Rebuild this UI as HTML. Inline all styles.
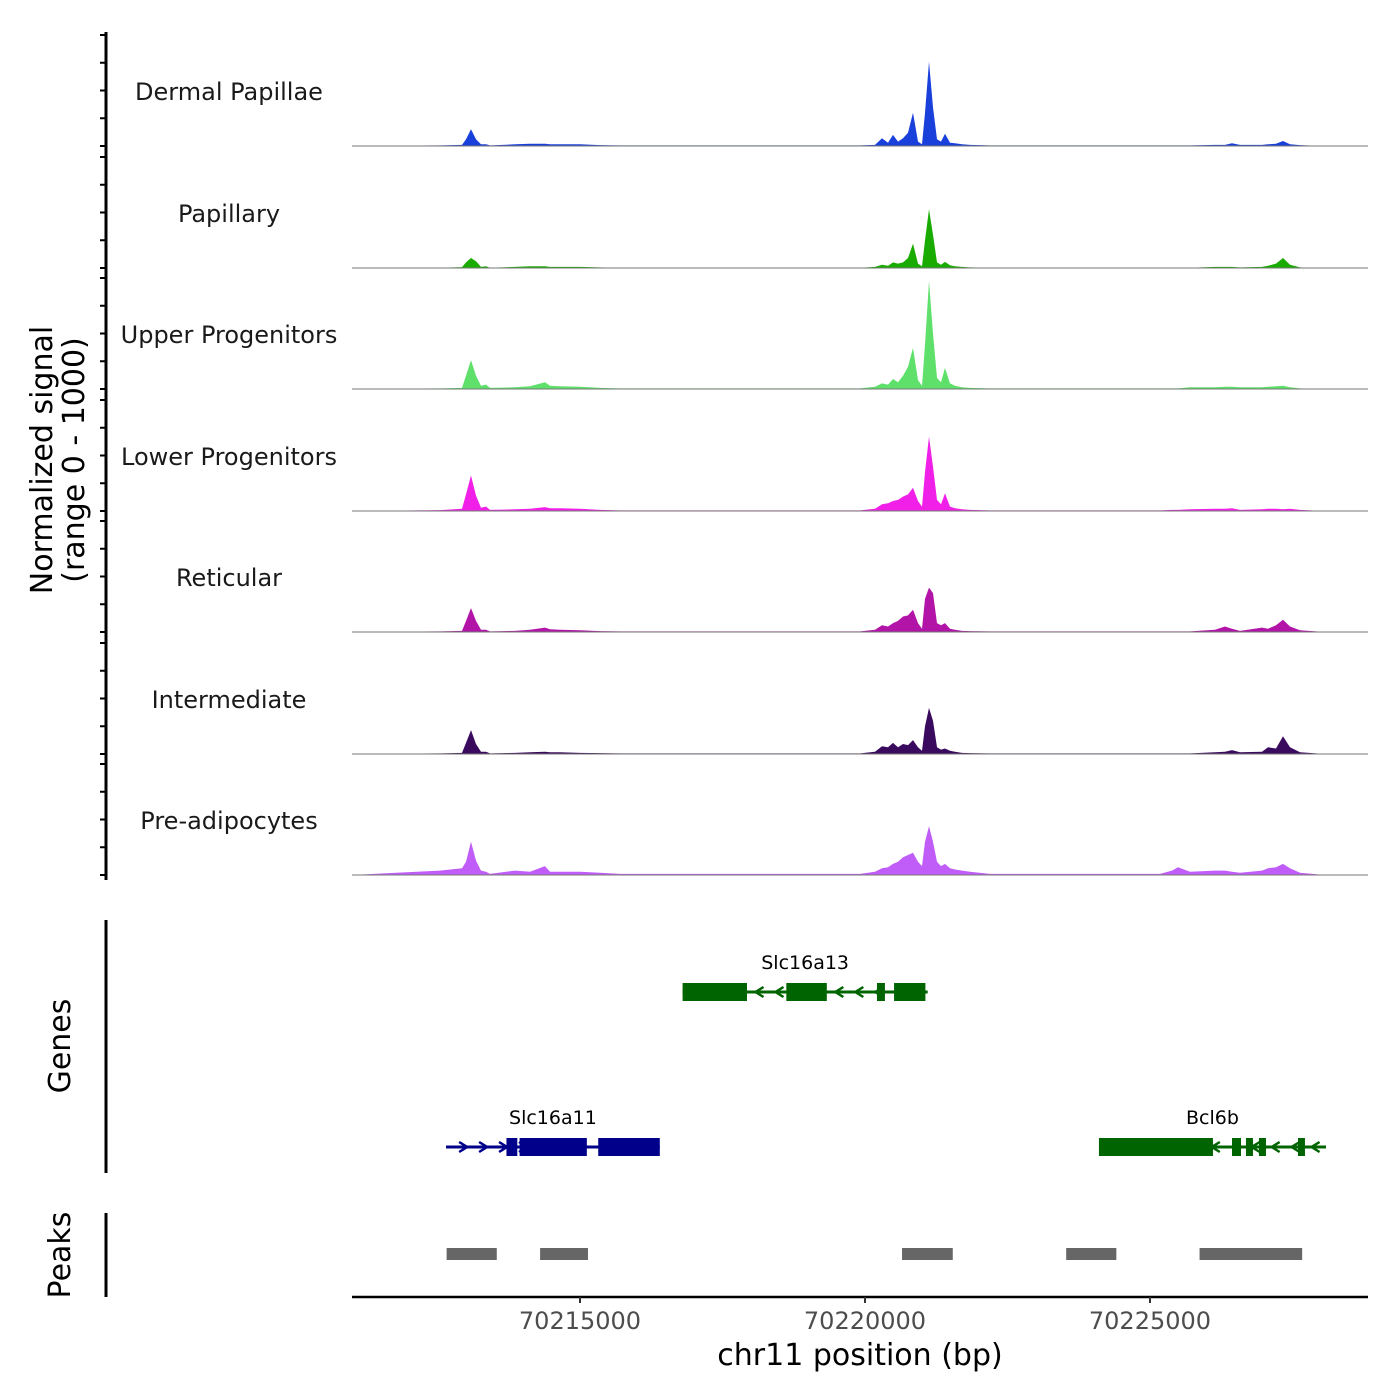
<!DOCTYPE html>
<html><head><meta charset="utf-8"><style>
body{margin:0;background:#fff}
svg{display:block;font-family:"DejaVu Sans","Liberation Sans",sans-serif}
</style></head><body>
<svg id="chart" width="1400" height="1400" xmlns="http://www.w3.org/2000/svg"></svg>
<script>
const xStart=70211000, xEnd=70228825;
const trackNames=["Dermal Papillae","Papillary","Upper Progenitors","Lower Progenitors","Reticular","Intermediate","Pre-adipocytes"];
const trackColors=["#1a40dc","#1aab00","#5ee06a","#f020e8","#b314a8","#3a0a5e","#c05cf8"];
const positions=[70211000,70212544,70212930,70213000,70213088,70213175,70213263,70213351,70213421,70213860,70214123,70214386,70214474,70214649,70215000,70215351,70215702,70219912,70220175,70220298,70220404,70220491,70220579,70220667,70220754,70220842,70220930,70221000,70221053,70221123,70221193,70221263,70221333,70221404,70221491,70221579,70221702,70221842,70222193,70225175,70225386,70225491,70225702,70226140,70226316,70226439,70226579,70226965,70227070,70227211,70227333,70227456,70227632,70228070,70228825];
const dermalValues=[0,5,10,60,150,60,15,15,5,15,20,20,15,15,15,8,5,5,10,70,30,100,40,70,120,300,40,15,300,760,350,60,40,110,30,25,15,10,5,5,5,5,5,10,10,25,10,10,15,20,45,15,8,0,0];
const papillaryValues=[0,3,8,50,90,60,10,15,3,10,15,15,10,10,10,5,3,3,10,30,20,50,40,50,90,220,40,15,250,530,300,50,30,55,25,15,10,5,3,3,3,3,3,10,10,10,5,10,20,40,90,30,5,0,0];
const upperValues=[0,5,10,120,260,120,30,40,10,15,25,60,30,25,20,10,5,5,20,50,40,90,60,120,200,370,80,30,400,970,500,100,60,190,50,30,15,10,5,5,5,5,15,15,20,20,15,15,20,25,30,15,5,0,0];
const lowerValues=[0,8,20,150,320,140,30,40,10,15,20,35,25,25,20,10,5,5,20,60,70,90,100,130,150,210,90,40,350,670,400,100,60,160,40,25,15,10,5,5,10,10,15,20,20,25,10,15,20,20,15,20,10,0,0];
const reticularValues=[0,5,10,100,215,100,20,20,5,10,20,40,25,20,15,8,5,5,20,60,50,80,100,140,150,200,80,30,300,400,350,80,60,80,30,20,10,8,5,5,5,5,5,20,50,30,10,40,30,60,110,50,15,0,0];
const intermediateValues=[0,5,10,100,215,90,20,20,5,10,15,20,15,15,10,8,5,5,20,70,60,100,60,90,80,125,60,30,250,415,300,60,40,50,30,20,10,8,5,5,5,5,5,15,20,35,15,20,60,50,160,60,15,0,0];
const preadipoValues=[0,40,60,120,300,130,40,30,10,40,30,80,30,30,30,20,10,10,30,60,70,100,120,160,180,200,120,80,300,440,300,120,80,100,60,50,40,30,10,10,40,70,30,40,40,30,20,40,60,70,100,60,20,0,0];
const trackValues=[dermalValues,papillaryValues,upperValues,lowerValues,reticularValues,intermediateValues,preadipoValues];
const xTicks=[70215000,70220000,70225000];
const geneNames=["Slc16a13","Slc16a11","Bcl6b"];
const geneStarts=[70216800,70212650,70224105];
const geneEnds=[70221100,70216400,70228088];
const geneStrands=[-1,1,-1];
const geneRows=[0,1,1];
const geneExons=[[[70216800,70217930],[70218620,70219330],[70220210,70220350],[70220510,70221060]],
 [[70213710,70213900],[70213940,70215120],[70215320,70216400]],
 [[70224105,70226105],[70226439,70226597],[70226684,70226807],[70226912,70227035],[70227597,70227719]]];
const peakStarts=[70212660,70214300,70220650,70223530,70225870];
const peakEnds=[70213540,70215140,70221540,70224410,70227670];

const svg=document.getElementById('chart');const NS="http://www.w3.org/2000/svg";
function mk(t,a,p){const e=document.createElementNS(NS,t);for(const k in a)e.setAttribute(k,a[k]);(p||svg).appendChild(e);return e;}
const X=v=>352+(v-xStart)/(xEnd-xStart)*1016;
const baselines=[146,268,389,511,632,754,875];
const Y=(v,b)=>b-v*0.111;
let ax=mk('line',{x1:106,y1:32,x2:106,y2:880,stroke:'#000','stroke-width':3});

baselines.forEach(b=>{for(let v=0;v<=1000;v+=250){const t=mk('line',{x1:100,x2:106,y1:Y(v,b),y2:Y(v,b),stroke:'#000','stroke-width':2});}});
trackNames.forEach((n,i)=>{const b=baselines[i];
 const g=mk('g',{});
 let d='M'+X(positions[0])+','+b;positions.forEach((p,j)=>{d+=' L'+X(p).toFixed(1)+','+Y(trackValues[i][j],b).toFixed(1);});d+=' L'+X(positions[positions.length-1])+','+b+'Z';
 const a=mk('path',{d:d,fill:trackColors[i]},g);
 const l=mk('line',{x1:352,x2:1368,y1:b,y2:b,stroke:'#777','stroke-width':1},g);
 const t=mk('text',{x:229,y:b-46,'text-anchor':'middle','font-size':24,fill:'#1a1a1a'},g);t.textContent=n;
});
const yt=mk('text',{transform:'translate(52,460) rotate(-90)','text-anchor':'middle','font-size':30,fill:'#000'});
yt.innerHTML='<tspan x="0" dy="0">Normalized signal</tspan><tspan x="0" dy="32">(range 0 - 1000)</tspan>';

const ga=mk('line',{x1:106,y1:920,x2:106,y2:1173,stroke:'#000','stroke-width':3});
const gt=mk('text',{transform:'translate(70,1046) rotate(-90)','text-anchor':'middle','font-size':30});gt.textContent='Genes';
const rowY=[992,1147];
geneNames.forEach((n,i)=>{const y=rowY[geneRows[i]];const c=i==1?'#00008b':'#006400';
 const g=mk('g',{});
 mk('line',{x1:X(geneStarts[i]),x2:X(geneEnds[i]),y1:y,y2:y,stroke:c,'stroke-width':3},g);
 for(let p=geneStarts[i]+300;p<geneEnds[i]-150;p+=350){const x=X(p);const s=geneStrands[i]*4;
  mk('polyline',{points:(x-s)+','+(y-5)+' '+(x+s)+','+y+' '+(x-s)+','+(y+5),fill:'none',stroke:c,'stroke-width':2.5},g);}
 geneExons[i].forEach(e=>{const r=mk('rect',{x:X(e[0]),y:y-9,width:X(e[1])-X(e[0]),height:18,fill:c},g);});
 const t=mk('text',{x:(X(geneStarts[i])+X(geneEnds[i]))/2,y:y-23,'text-anchor':'middle','font-size':19,fill:'#000'},g);t.textContent=n;
});
const pa=mk('line',{x1:106,y1:1213,x2:106,y2:1297,stroke:'#000','stroke-width':3});
const pt=mk('text',{transform:'translate(70,1255) rotate(-90)','text-anchor':'middle','font-size':30});pt.textContent='Peaks';
peakStarts.forEach((s,i)=>{const r=mk('rect',{x:X(s),y:1248,width:X(peakEnds[i])-X(s),height:12,fill:'#666'});});
const xa=mk('line',{x1:352,x2:1368,y1:1297,y2:1297,stroke:'#000','stroke-width':2.5});
xTicks.forEach(v=>{const t=mk('line',{x1:X(v),x2:X(v),y1:1297,y2:1303,stroke:'#333','stroke-width':2});
 const l=mk('text',{x:X(v),y:1329,'text-anchor':'middle','font-size':24,fill:'#4d4d4d'});l.textContent=v;});
const xt=mk('text',{x:860,y:1365,'text-anchor':'middle','font-size':30});xt.textContent='chr11 position (bp)';
</script></body></html>
